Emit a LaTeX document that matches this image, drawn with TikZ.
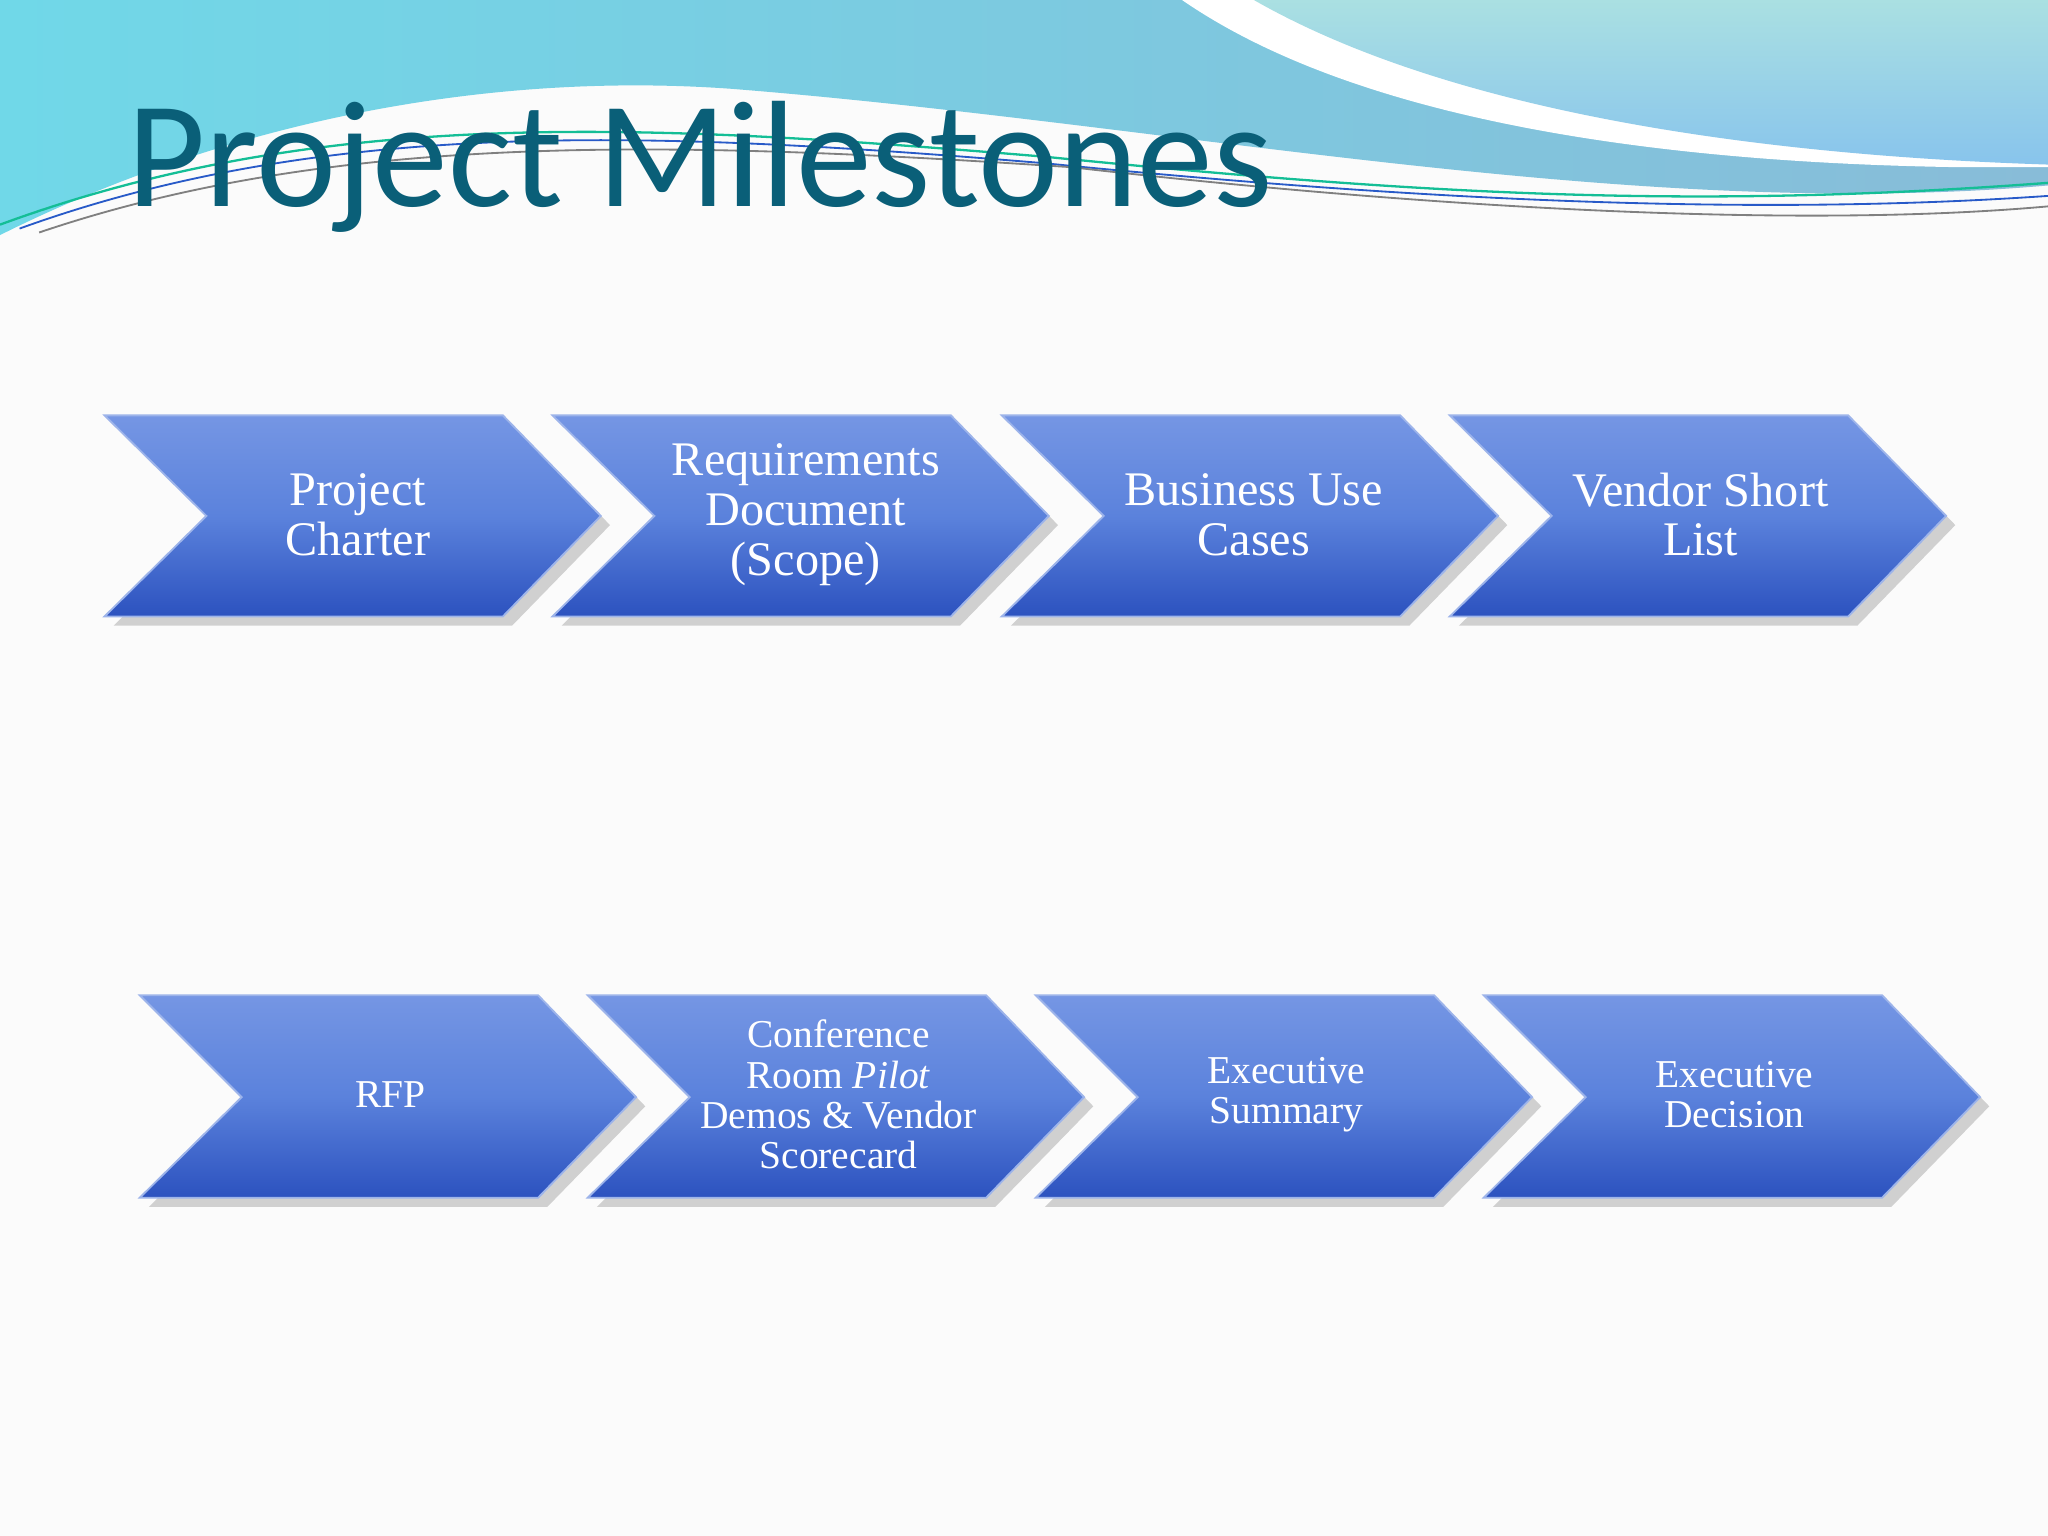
\documentclass[tikz,border=0pt]{standalone}
\usepackage{fontspec}
\setmainfont{Liberation Serif}
\newfontfamily\titlefont{Carlito}
\usetikzlibrary{shadows}
\definecolor{titlec}{HTML}{0A5F78}
\definecolor{chevtop}{HTML}{7596E4}
\definecolor{chevmid}{HTML}{5B82DC}
\definecolor{chevbot}{HTML}{2C52BF}
\definecolor{chevedge}{HTML}{9DB4EA}
\definecolor{bandl}{RGB}{112,216,232}
\definecolor{bandr}{RGB}{136,188,216}
\definecolor{tealt}{RGB}{170,224,226}
\definecolor{tealb}{RGB}{136,196,236}
\definecolor{lgreen}{RGB}{20,190,150}
\definecolor{lblue}{RGB}{40,90,200}
\tikzset{
  chev/.style={top color=chevtop, bottom color=chevbot, middle color=chevmid, draw=chevedge, line width=0.4pt,
    drop shadow={shadow xshift=2pt, shadow yshift=-2pt, opacity=0.35}},
  chevtxt/.style={text=white, align=center, font=\fontsize{10.5}{10.8}\selectfont},
  chevtxtb/.style={text=white, align=center, font=\fontsize{8.6}{8.8}\selectfont}
}
\begin{document}
\begin{tikzpicture}[x=0.01cm,y=-0.01cm]
\useasboundingbox (0,0) rectangle (1568,1176);
\fill[white!97!gray] (0,0) rectangle (1568,1176);
% header band
\shade[left color=bandl, right color=bandr]
  (0,0) -- (0,180) .. controls (180,90) and (380,55) .. (560,68)
  .. controls (900,95) and (1250,170) .. (1568,142) -- (1568,0) -- cycle;
\fill[white] (905,0) .. controls (1050,100) and (1300,125) .. (1500,128) -- (1568,128) -- (1568,0) -- cycle;
\shade[top color=tealt, bottom color=tealb]
  (960,0) .. controls (1100,80) and (1320,118) .. (1568,126) -- (1568,0) -- cycle;
% thin lines
\draw[lgreen, line width=0.5pt] (0,172) .. controls (250,80) and (500,95) .. (800,120) .. controls (1100,150) and (1300,160) .. (1568,140);
\draw[lblue, line width=0.4pt] (15,175) .. controls (250,90) and (500,100) .. (800,125) .. controls (1100,155) and (1350,165) .. (1568,150);
\draw[gray, line width=0.4pt] (30,178) .. controls (260,100) and (520,108) .. (820,128) .. controls (1100,160) and (1380,175) .. (1568,158);
% title
\node[anchor=base west, inner sep=0, text=titlec, font=\titlefont\fontsize{33}{33}\selectfont] (title) at (97,158) {Project Milestones};
% chevrons
\foreach \x/\n in {80/a,423/b,767/c,1110/d}{
  \path[chev] (\x,318) -- (\x+305,318) -- (\x+380,395) -- (\x+305,472) -- (\x,472) -- (\x+78,395) -- cycle;
}
\foreach \x/\n in {107/e,450/f,793/g,1136/h}{
  \path[chev] (\x,762) -- (\x+305,762) -- (\x+380,840) -- (\x+305,917) -- (\x,917) -- (\x+78,840) -- cycle;
}
\node[chevtxt] (ta) at (274,394) {Project\\Charter};
\node[chevtxt] (tb) at (617,394) {Requirements\\Document\\(Scope)};
\node[chevtxt] (tc) at (960,394) {Business Use\\Cases};
\node[chevtxt] (td) at (1302,394) {Vendor Short\\List};
\node[chevtxtb] (te) at (299,838) {RFP};
\node[chevtxtb] (tf) at (642,838) {Conference\\Room \textit{Pilot}\\Demos \& Vendor\\Scorecard};
\node[chevtxtb] (tg) at (985,838) {Executive\\Summary};
\node[chevtxtb] (th) at (1328,838) {Executive\\Decision};
\end{tikzpicture}
\end{document}
